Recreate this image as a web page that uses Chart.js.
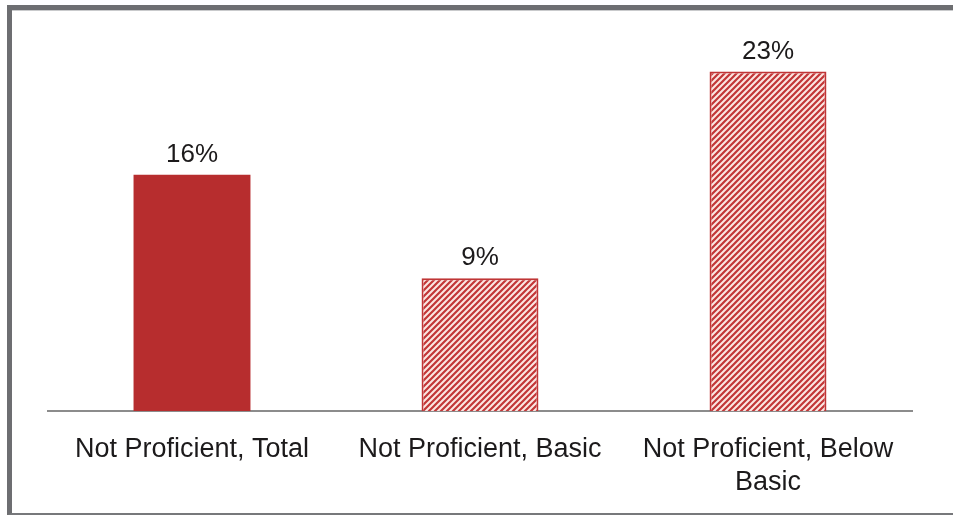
<!DOCTYPE html>
<html>
<head>
<meta charset="utf-8">
<script src="https://cdn.jsdelivr.net/npm/chart.js@4"></script>
<style>
  html, body { margin: 0; padding: 0; background: #fff; }
  #wrap { position: relative; width: 953px; height: 515px; }
  #frame {
    position: absolute; left: 7px; top: 5px; right: 0; bottom: 0;
    border-top: 5px solid #6d6e71; border-left: 5px solid #6d6e71;
    border-bottom: 2px solid #77787b;
    box-shadow: inset 0 1px 0 #c9cacc;
  }
  canvas { position: absolute; left: 0; top: 0; }
</style>
</head>
<body>
<div id="wrap">
  <div id="frame"></div>
  <canvas id="bars" width="953" height="515"></canvas>
</div>
<script>
const categories = ["Not Proficient, Total", "Not Proficient, Basic", ["Not Proficient, Below", "Basic"]];
const values = [16, 9, 23];
const valueLabels = ["16%", "9%", "23%"];

// diagonal hatch for the two breakdown bars
function hatch() {
  const c = document.createElement("canvas");
  c.width = 6; c.height = 6;
  const g = c.getContext("2d");
  g.fillStyle = "#fbe6e2";
  g.fillRect(0, 0, 6, 6);
  g.strokeStyle = "#c23637";
  g.lineWidth = 2.2;
  g.beginPath();
  g.moveTo(-1, 7); g.lineTo(7, -1);
  g.moveTo(-4, 4); g.lineTo(4, -4);
  g.moveTo(2, 10); g.lineTo(10, 2);
  g.stroke();
  return g.createPattern(c, "repeat");
}

const ctx = document.getElementById("bars").getContext("2d");
const pattern = hatch();

const valueText = {
  id: "valueText",
  afterDatasetsDraw(chart) {
    const c = chart.ctx;
    const meta = chart.getDatasetMeta(0);
    c.save();
    c.font = "26px 'Liberation Sans', Arial, sans-serif";
    c.fillStyle = "#1c1a1b";
    c.textAlign = "center";
    c.textBaseline = "middle";
    meta.data.forEach((bar, i) => {
      c.fillText(valueLabels[i], bar.x, bar.y - 20);
    });
    c.restore();
  }
};

new Chart(ctx, {
  type: "bar",
  data: {
    labels: categories,
    datasets: [{
      data: values,
      backgroundColor: ["#b72d2e", pattern, pattern],
      borderColor: ["#b72d2e", "#c03536", "#c03536"],
      borderWidth: [0, 2, 2],
      categoryPercentage: 1,
      barPercentage: 0.406
    }]
  },
  options: {
    responsive: false,
    animation: false,
    layout: { padding: { left: 48, right: 41, top: 42, bottom: 0 } },
    plugins: { legend: { display: false }, tooltip: { enabled: false } },
    scales: {
      x: {
        grid: { display: false, drawTicks: false },
        border: { display: true, color: "#8c8c8c", width: 2 },
        ticks: {
          color: "#1c1a1b",
          padding: 22,
          maxRotation: 0,
          font: { family: "'Liberation Sans', Arial, sans-serif", size: 27, lineHeight: 1.22 }
        },
        afterFit(scale) { scale.height = 104; }
      },
      y: {
        display: false,
        min: 0,
        max: 25
      }
    }
  },
  plugins: [valueText]
});
</script>
</body>
</html>
